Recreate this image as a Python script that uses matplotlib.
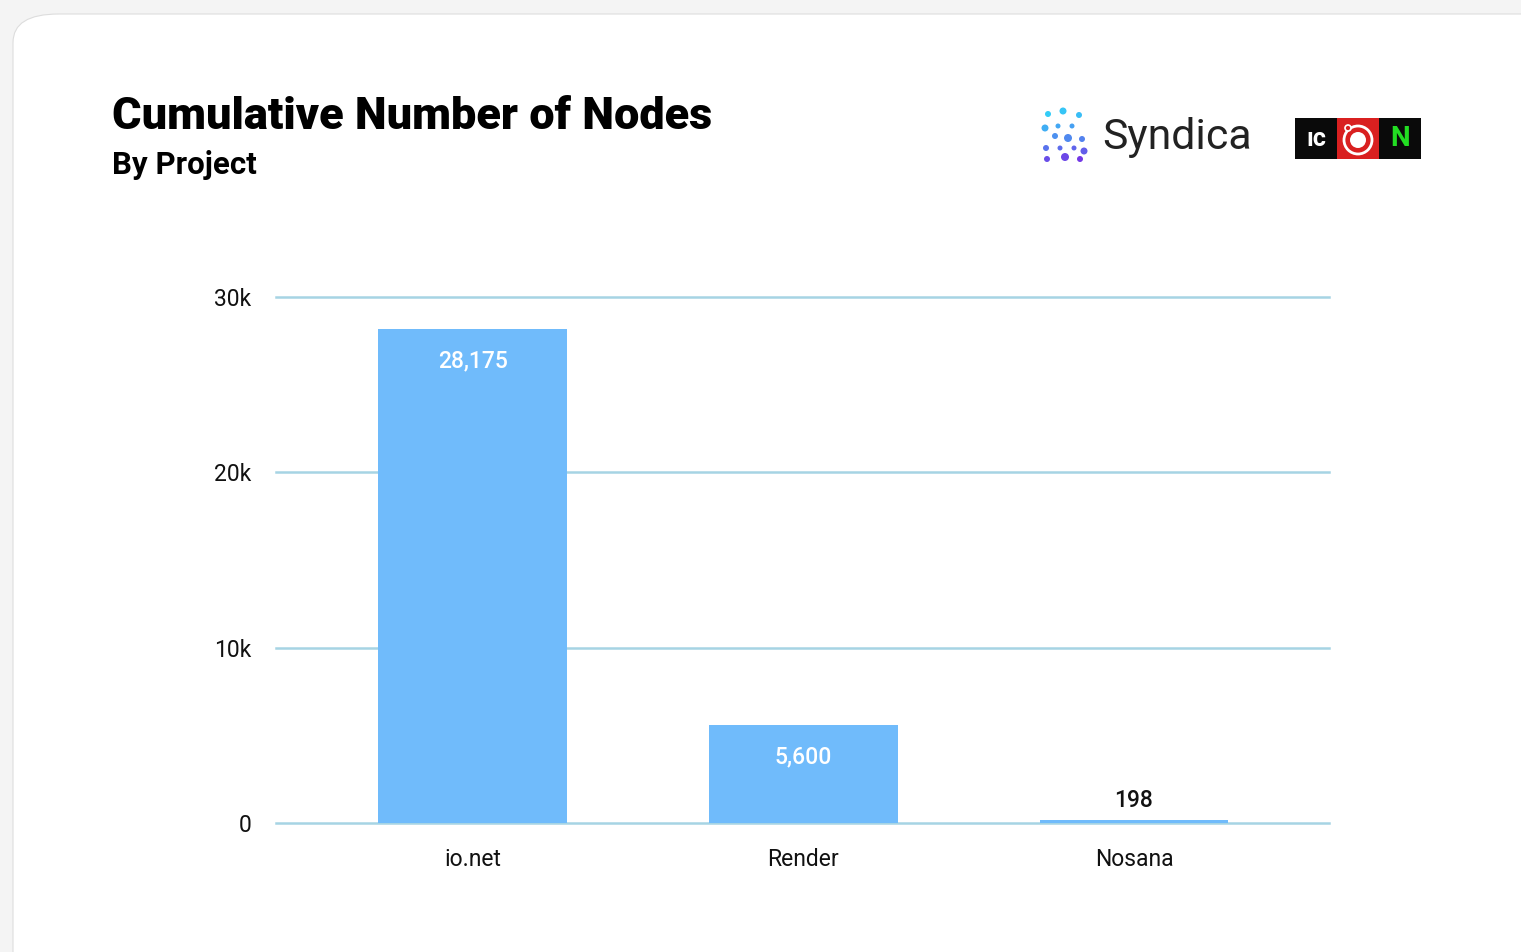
import numpy as np
import matplotlib
matplotlib.use("Agg")
import matplotlib.pyplot as plt
from matplotlib.patches import FancyBboxPatch, Rectangle, Ellipse

plt.rcParams['font.family'] = ['Roboto', 'DejaVu Sans']

projects = ["io.net", "Render", "Nosana"]
nodes = [28175, 5600, 198]
value_labels = ["28,175", "5,600", "198"]
y_ticks = [0, 10000, 20000, 30000]
y_tick_labels = ["0", "10k", "20k", "30k"]

W, H = 1521, 952
fig = plt.figure(figsize=(W / 100, H / 100), dpi=100)
fig.patch.set_facecolor("#f4f4f4")


def circ(px, py, r, **kw):
    # circle given in pixel coordinates
    return Ellipse((px / W, 1 - py / H), 2 * r / W, 2 * r / H,
                   transform=fig.transFigure, **kw)


# white card with rounded corner
card = FancyBboxPatch((13 / W, -0.05), 1.2, (952 - 14) / H + 0.05,
                      boxstyle="round,pad=0,rounding_size=0.03",
                      transform=fig.transFigure, facecolor="white",
                      edgecolor="#dddddd", linewidth=0.8, zorder=-5)
fig.patches.append(card)

# title
fig.text(112 / W, 1 - 117 / H, "Cumulative Number of Nodes", fontsize=32.5,
         fontweight="heavy", va="center", ha="left", color="black")
fig.text(112 / W, 1 - 165 / H, "By Project", fontsize=22.5,
         fontweight="bold", va="center", ha="left", color="black")

# Syndica logo (approximation)
dots = [(1048, 114, 3, 0), (1063, 111, 3.5, 0.05), (1079, 115, 3, 0.1),
        (1045, 128, 3.5, 0.2), (1058, 126, 2.5, 0.25), (1072, 126, 2.5, 0.3),
        (1055, 136, 3, 0.4), (1068, 138, 4, 0.45), (1082, 139, 3, 0.5),
        (1046, 148, 3, 0.6), (1060, 148, 2.5, 0.65), (1074, 148, 2.5, 0.7),
        (1084, 151, 3.5, 0.75), (1047, 159, 3, 0.85), (1065, 157, 4, 0.9),
        (1080, 159, 3, 1.0)]
for dx, dy, r, t in dots:
    c = np.array([0.20, 0.80, 0.97]) * (1 - t) + np.array([0.45, 0.22, 0.90]) * t
    fig.patches.append(circ(dx, dy, r, facecolor=c, edgecolor="none"))
fig.text(1102 / W, 1 - 138 / H, "Syndica", fontsize=30.8, color="#222222",
         va="center", ha="left")

# partner logos (approximation)
box_x = [1295, 1337, 1379]
box_colors = ["#0a0a0a", "#d92020", "#0a0a0a"]
for bx, bc in zip(box_x, box_colors):
    fig.patches.append(Rectangle((bx / W, 1 - 159 / H), 42 / W, 41 / H,
                                 transform=fig.transFigure, facecolor=bc,
                                 edgecolor="none"))
fig.text(1316 / W, 1 - 139 / H, "ıc", fontsize=18, color="white", fontweight="bold",
         ha="center", va="center")
fig.patches.append(circ(1358, 140, 14, facecolor="none", edgecolor="white", linewidth=2))
fig.patches.append(circ(1358, 140, 8, facecolor="white", edgecolor="none"))
fig.patches.append(circ(1348, 128, 3, facecolor="#d92020", edgecolor="white", linewidth=1.2))
fig.text(1400 / W, 1 - 139 / H, "N", fontsize=20, color="#22dd22", fontweight="bold",
         ha="center", va="center")

# chart
ax = fig.add_axes([276 / W, (H - 823) / H, 1053 / W, 526 / H])
ax.set_facecolor("none")
x = np.arange(len(projects))
ax.bar(x, nodes, width=0.571, color="#70bbfb", zorder=3)
ax.set_xlim(-0.595, 2.59)
ax.set_ylim(0, 30000)
ax.set_yticks(y_ticks)
ax.set_yticklabels(y_tick_labels)
ax.set_xticks(x)
ax.set_xticklabels(projects)
ax.grid(axis="y", color="#a6d4e4", linewidth=1.8, zorder=1)
for gl in ax.get_ygridlines():
    gl.set_clip_on(False)
ax.set_axisbelow(True)
for s in ax.spines.values():
    s.set_visible(False)
ax.tick_params(axis="both", length=0, labelsize=16.5, colors="#111111")
ax.tick_params(axis="y", pad=18)
ax.tick_params(axis="x", pad=18)

for xi, v, lab in zip(x, nodes, value_labels):
    if v > 3000:
        ax.annotate(lab, (xi, v), xytext=(0, -23), textcoords="offset points",
                    ha="center", va="center", fontsize=16.5, color="white",
                    fontweight="medium")
    else:
        ax.annotate(lab, (xi, v), xytext=(0, 14), textcoords="offset points",
                    ha="center", va="center", fontsize=16.5, color="#111111",
                    fontweight="medium")

fig.savefig("out.png", dpi=100, facecolor=fig.get_facecolor())
